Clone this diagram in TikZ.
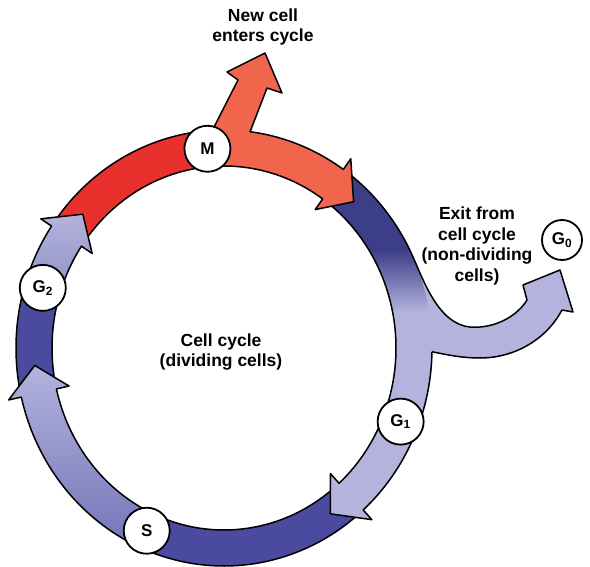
\documentclass[tikz,border=0pt]{standalone}
\usepackage{fontspec}
\setmainfont{Liberation Sans}
\usepackage{xcolor}
\definecolor{ccred}{HTML}{E8302C}
\definecolor{ccorange}{HTML}{F2654D}
\definecolor{ccnavy}{HTML}{3C3E88}
\definecolor{ccdark}{HTML}{4A4B9E}
\definecolor{ccmid}{HTML}{7375B8}
\definecolor{cclav}{HTML}{B3B3DD}
\pgfdeclareverticalshading{ccright}{100bp}{color(0bp)=(cclav); color(55bp)=(cclav); color(64bp)=(ccnavy); color(100bp)=(ccnavy)}
\newcommand{\ringband}[2]{(#1:208pt and 218pt) arc[start angle=#1, end angle=#2, x radius=208pt, y radius=218pt] -- (#2:172pt and 182pt) arc[start angle=#2, end angle=#1, x radius=172pt, y radius=182pt] -- cycle}
\newcommand{\ringarrow}[3]{(#1:208pt and 218pt) arc[start angle=#1, end angle=#2, x radius=208pt, y radius=218pt] -- (#2:221pt and 231pt) -- (#3:190pt and 200pt) -- (#2:159pt and 169pt) -- (#2:172pt and 182pt) arc[start angle=#2, end angle=#1, x radius=172pt, y radius=182pt] -- cycle}

\begin{document}
\begin{tikzpicture}[x=1pt, y=1pt,
    rim/.style={draw=black, line width=1.5pt, line join=round},
    band/.style={rim, fill=#1},
    phase/.style={circle, draw=black, line width=1.8pt, fill=white, minimum size=46pt,
                  inner sep=0pt, font=\fontsize{17}{17}\selectfont\bfseries},
    note/.style={align=center, font=\fontsize{17.5}{20.5}\selectfont\bfseries}
  ]
    \useasboundingbox (-224,-218) rectangle (366,348);

    \path[band=ccdark] \ringband{191}{162.5};
    \path[band=ccred] \ringband{144}{95};
    \path[band=ccdark] \ringband{-50}{-114};

    \fill[cclav] (25:208pt and 218pt) .. controls (199,69) and (214,24) .. (246,21)
      .. controls (272,19) and (294,33) .. (303,48) -- (299,63) -- (336,78) -- (349,36) -- (338,38)
      .. controls (322,8) and (290,-10) .. (256,-10) .. controls (236,-10) and (220,-6) .. (-1:208pt and 218pt)
      -- (-1:190pt and 200pt) -- (25:190pt and 200pt) -- cycle;
    \shade[shading=ccright] \ringarrow{53}{-48}{-56};
    \draw[rim] (53:208pt and 218pt) arc[start angle=53, end angle=25, x radius=208pt, y radius=218pt];
    \draw[rim] (-1:208pt and 218pt) arc[start angle=-1, end angle=-48, x radius=208pt, y radius=218pt]
      -- (-48:221pt and 231pt) -- (-56:190pt and 200pt) -- (-48:159pt and 169pt) -- (-48:172pt and 182pt)
      arc[start angle=-48, end angle=53, x radius=172pt, y radius=182pt];
    \draw[rim] (25:208pt and 218pt) .. controls (199,69) and (214,24) .. (246,21)
      .. controls (272,19) and (294,33) .. (303,48) -- (299,63) -- (336,78) -- (349,36) -- (338,38)
      .. controls (322,8) and (290,-10) .. (256,-10) .. controls (236,-10) and (220,-6) .. (-1:208pt and 218pt);

    \path[rim, top color=cclav, bottom color=ccmid] \ringarrow{246}{193}{185};
    \path[rim, top color=cclav, bottom color=ccmid!55!cclav] \ringarrow{162.5}{146}{138};
    \path[band=ccorange] \ringarrow{95}{55}{47};

    \fill[ccorange] (-13,215) -- (14,268) -- (3,276) -- (41,295) -- (58,255) -- (43,260) -- (26,216)
      -- (21,198) -- (-14,198) -- cycle;
    \draw[rim] (-13,215) -- (14,268) -- (3,276) -- (41,295) -- (58,255) -- (43,260) -- (26,216);

    \node[phase] (m) at (95:190pt and 200pt) {M};
    \node[phase] (g2) at (162.5:190pt and 200pt) {G\textsubscript{2}};
    \node[phase] (s) at (-114:190pt and 200pt) {S};
    \node[phase] (g1) at (-21.6:190pt and 200pt) {G\textsubscript{1}};
    \node[phase, minimum size=40pt] (g0) at (338,108) {G\textsubscript{0}};

    \node[note] (newcell) at (39,321) {New cell\\enters cycle};
    \node[note] (exit) at (253,102) {Exit from\\cell cycle\\(non-dividing\\cells)};
    \node[note] (dividing) at (-3,-4) {Cell cycle\\(dividing cells)};
  \end{tikzpicture}
\end{document}
